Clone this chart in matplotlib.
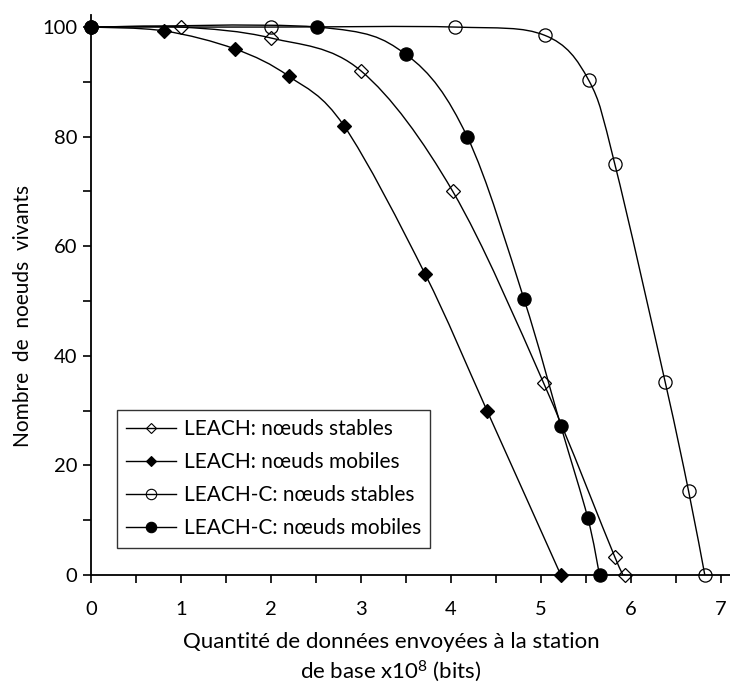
import numpy as np
import matplotlib
matplotlib.use('Agg')
import matplotlib.pyplot as plt
from matplotlib.path import Path
from matplotlib.patches import PathPatch
from matplotlib.lines import Line2D
from matplotlib.ticker import MultipleLocator

plt.rcParams['font.family'] = ['Lato', 'DejaVu Sans']
plt.rcParams['mathtext.fontset'] = 'custom'
plt.rcParams['mathtext.rm'] = 'Lato'
plt.rcParams['mathtext.default'] = 'rm'

FS = 15  # text size

# Data (x in 1e8 bits, y = alive nodes)
x_leach_stable = [0, 1.0, 2.0, 3.0, 4.02, 5.03, 5.82, 5.93]
y_leach_stable = [100, 100, 98, 92, 70, 35, 3.3, 0]

x_leach_mobile = [0, 0.81, 1.6, 2.2, 2.81, 3.71, 4.4, 5.22]
y_leach_mobile = [100, 99.3, 96, 91, 82, 55, 30, 0]

x_leachc_stable = [0, 2.0, 4.04, 5.04, 5.53, 5.82, 6.38, 6.64, 6.82]
y_leachc_stable = [100, 100, 100, 98.5, 90.3, 75, 35.2, 15.3, 0]

x_leachc_mobile = [0, 2.51, 3.5, 4.18, 4.81, 5.22, 5.52, 5.65]
y_leachc_mobile = [100, 100, 95, 80, 50.4, 27.2, 10.4, 0]

labels = ['LEACH: nœuds stables', 'LEACH: nœuds mobiles',
          'LEACH-C: nœuds stables', 'LEACH-C: nœuds mobiles']
markers = ['D', 'D', 'o', 'o']
filled = [False, True, False, True]
sizes = [7.5, 7.5, 9.5, 9.5]
leg_sizes = [5, 5, 7.5, 7.5]

series = [(x_leach_stable, y_leach_stable),
          (x_leach_mobile, y_leach_mobile),
          (x_leachc_stable, y_leachc_stable),
          (x_leachc_mobile, y_leachc_mobile)]


def smooth_path(xs, ys):
    # Excel-like smoothed line: cubic Bezier segments through the points
    p = np.column_stack([xs, ys]).astype(float)
    n = len(p)
    verts = [p[0]]
    codes = [Path.MOVETO]
    for i in range(n - 1):
        p_prev = p[i - 1] if i > 0 else p[i]
        p_next2 = p[i + 2] if i + 2 < n else p[i + 1]
        c1 = p[i] + (p[i + 1] - p_prev) / 6.0
        c2 = p[i + 1] - (p_next2 - p[i]) / 6.0
        verts += [c1, c2, p[i + 1]]
        codes += [Path.CURVE4] * 3
    return Path(verts, codes)


fig = plt.figure(figsize=(7.3, 6.84), dpi=100)
ax = fig.add_axes([91 / 730, 109 / 684, 639 / 730, 560 / 684])

handles = []
for (xs, ys), m, f, ms, lms, lab in zip(series, markers, filled, sizes,
                                        leg_sizes, labels):
    ax.add_patch(PathPatch(smooth_path(xs, ys), facecolor='none',
                           edgecolor='black', lw=1.0, zorder=2))
    fc = 'black' if f else 'none'
    ax.plot(xs, ys, linestyle='none', marker=m, markersize=ms,
            markerfacecolor=fc, markeredgecolor='black',
            markeredgewidth=0.9, zorder=3, clip_on=False)
    handles.append(Line2D([], [], color='black', lw=1.0, marker=m,
                          markersize=lms, markerfacecolor=fc,
                          markeredgecolor='black', markeredgewidth=0.8,
                          label=lab))

ax.set_xlim(0, 7.1)
ax.set_ylim(0, 102.2)
ax.xaxis.set_major_locator(MultipleLocator(1))
ax.xaxis.set_minor_locator(MultipleLocator(0.5))
ax.yaxis.set_major_locator(MultipleLocator(20))
ax.yaxis.set_minor_locator(MultipleLocator(10))
ax.set_xticks([0, 1, 2, 3, 4, 5, 6, 7])

for s in ['top', 'right']:
    ax.spines[s].set_visible(False)
for s in ['left', 'bottom']:
    ax.spines[s].set_linewidth(1.3)

ax.tick_params(axis='both', which='both', direction='out', length=5.8,
               width=1.2, labelsize=14.5)
ax.tick_params(axis='x', which='major', pad=13)
ax.tick_params(axis='y', which='major', pad=4)

ax.set_ylabel('Nombre  de  noeuds  vivants', fontsize=FS)
ax.set_xlabel('Quantité de données envoyées à la station\n'
              'de base x10$^8$ (bits)', fontsize=16, linespacing=1.3)
ax.xaxis.set_label_coords(300 / 639, -0.102)
ax.yaxis.set_label_coords(-0.091, 0.4625)

leg = ax.legend(handles=handles, loc='upper left',
                bbox_to_anchor=(26 / 639, 165 / 560), borderaxespad=0,
                fontsize=FS, frameon=True, fancybox=False,
                edgecolor='black', handlelength=2.4, handletextpad=0.35,
                labelspacing=0.62, borderpad=0.45)
leg.get_frame().set_linewidth(1.0)

fig.savefig('out.png', dpi=100)
